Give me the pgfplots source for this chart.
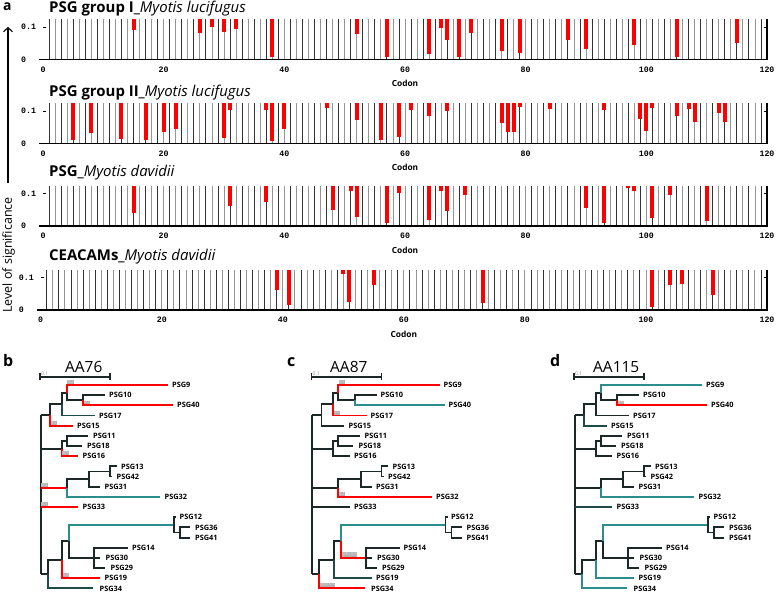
\documentclass[border=0pt]{standalone}
\usepackage{fontspec}
\setmainfont{Open Sans}
\newfontfamily\monof{Liberation Mono}
\usepackage{pgfplots}
\pgfplotsset{compat=1.18}
\usetikzlibrary{arrows.meta}
\definecolor{tk}{RGB}{28,40,40}
\definecolor{dtl}{RGB}{30,74,74}
\definecolor{tl}{RGB}{45,140,140}
\definecolor{rd}{RGB}{255,0,0}

\pgfplotsset{
 barpanel/.style={
  scale only axis, width=724bp, height=40bp,
  xmin=0, xmax=120, ymin=0, ymax=0.124,
  axis line style={draw=none},
  xtick={1,3,...,119}, minor xtick={2,4,...,118},
  xticklabels={},
  xmajorgrids, xminorgrids,
  major x grid style={black!80, line width=0.85bp},
  minor x grid style={black!42, line width=0.85bp},
  xtick style={draw=none},
  extra x ticks={0,20,40,60,80,100,120},
  extra x tick labels={0,20,40,60,80,100,120},
  extra x tick style={grid=none},
  xticklabel style={font=\monof\bfseries\fontsize{8.3}{9}\selectfont, anchor=center, yshift=-10bp, inner sep=0pt},
  ytick={0,0.1}, yticklabels={0,0.1},
  yticklabel style={font=\monof\bfseries\fontsize{8.3}{9}\selectfont, anchor=west, inner sep=0pt, xshift=-22bp},
  ytick style={black, line width=0.8bp}, major tick length=3bp,
  xlabel={Codon},
  xlabel style={at={(axis description cs:0.5,0)}, anchor=center, yshift=-24.5bp, font=\bfseries\fontsize{8.4}{10}\selectfont},
  extra description/.code={\draw[black, line width=1.2bp] (-0.005,0) -- (1,0) -- (1,1);},
 },
 redbar/.style={draw=rd, line width=4bp, mark=none, unbounded coords=jump, line cap=butt},
 treeax/.style={scale only axis, width=230bp, height=248bp, xmin=0, xmax=230, ymin=345, ymax=593, y dir=reverse, hide axis, clip=false, every axis plot/.append style={line width=1.9bp, line join=miter}},
}
\tikzset{
 lbl/.style={anchor=west, inner sep=0pt, font=\bfseries\fontsize{7.4}{8}\selectfont, text=black},
 bxs/.style={anchor=south west, fill=black!30, inner sep=0.5bp, font=\fontsize{3.8}{3.8}\selectfont, text=black!8},
}

\newcommand{\br}[5]{\addplot[#1] coordinates {(#2,#3) (#2,#4) (#5,#4)};}
\newcommand{\hb}[4]{\addplot[#1] coordinates {(#2,#3) (#4,#3)};}
\newcommand{\resetcolors}{%
\colorlet{cD}{tk}\colorlet{cC}{tk}\colorlet{cA}{tk}\colorlet{cB}{tk}%
\colorlet{cP9}{tk}\colorlet{cP10}{tk}\colorlet{cP40}{tk}\colorlet{cP17}{tk}\colorlet{cP15}{tk}%
\colorlet{cE}{tk}\colorlet{cEp}{tk}\colorlet{cP16}{tk}\colorlet{cP11}{tk}\colorlet{cP18}{tk}%
\colorlet{cF}{tk}\colorlet{cG}{tk}\colorlet{cP32}{tk}\colorlet{cGp}{tk}\colorlet{cP31}{tk}%
\colorlet{cP13}{tk}\colorlet{cP42}{tk}\colorlet{cP33}{tk}\colorlet{cM}{tk}\colorlet{cL}{tk}%
\colorlet{cP34}{tk}\colorlet{cK}{tk}\colorlet{cP19}{tk}\colorlet{cI}{tk}\colorlet{cJ}{tk}%
\colorlet{cP14}{tk}\colorlet{cP30}{tk}\colorlet{cP29}{tk}\colorlet{cP12}{tk}\colorlet{cIp}{tk}%
\colorlet{cP36}{tk}\colorlet{cP41}{tk}}

\newcommand{\drawtree}{%
\addplot[tk] coordinates {(40.7,414.9) (40.7,574.1)};
\hb{cD}{40.7}{414.9}{50}
\br{cC}{50}{414.9}{404.1}{61.7}
\br{cP15}{50}{414.9}{425.7}{72.7}
\br{cA}{61.7}{404.1}{392.6}{66.7}
\br{cP17}{61.7}{404.1}{415.5}{95}
\br{cP9}{66.7}{392.6}{385}{168.3}
\br{cB}{66.7}{392.6}{400.3}{83.3}
\br{cP10}{83.3}{400.3}{395.2}{105}
\br{cP40}{83.3}{400.3}{405.3}{173}
\hb{cE}{40.7}{448.6}{61.7}
\br{cEp}{61.7}{448.6}{441}{66.7}
\br{cP16}{61.7}{448.6}{456.2}{78.3}
\br{cP11}{66.7}{441}{435.9}{88.3}
\br{cP18}{66.7}{441}{446}{81.7}
\hb{cF}{40.7}{488}{66.7}
\br{cG}{66.7}{488}{479.1}{89.3}
\br{cP32}{66.7}{488}{496.9}{160}
\br{cGp}{89.3}{479.1}{471.5}{110}
\br{cP31}{89.3}{479.1}{486.7}{100}
\br{cP13}{110}{471.5}{466.4}{116.7}
\br{cP42}{110}{471.5}{476.5}{112}
\hb{cP33}{40.7}{507}{78.3}
\hb{cM}{40.7}{574.1}{47.7}
\br{cL}{47.7}{574.1}{559.8}{62.3}
\br{cP34}{47.7}{574.1}{588.4}{93.3}
\br{cK}{62.3}{559.8}{541.4}{69.3}
\br{cP19}{62.3}{559.8}{578.2}{100}
\br{cI}{69.3}{541.4}{524.9}{174}
\br{cJ}{69.3}{541.4}{557.9}{94.3}
\br{cP14}{94.3}{557.9}{547.7}{128}
\hb{cP30}{94.3}{557.9}{100}
\br{cP29}{94.3}{557.9}{568.1}{105}
\br{cP12}{174}{524.9}{517.2}{176}
\br{cIp}{174}{524.9}{532.5}{180}
\br{cP36}{180}{532.5}{527.4}{190}
\br{cP41}{180}{532.5}{537.6}{190}
\addplot[tk, line width=1.3bp] coordinates {(40,377) (110,377)};
\addplot[tk, line width=1.1bp] coordinates {(40,373.5) (40,380.5)};
\addplot[tk, line width=1.1bp] coordinates {(110,373.5) (110,380.5)};
\node[anchor=south west, inner sep=0pt, font=\fontsize{5}{5}\selectfont, text=black!45] at (axis cs:41,375.5) {0.1};
\node[lbl] at (axis cs:172,385) {PSG9};
\node[lbl] at (axis cs:109,395.2) {PSG10};
\node[lbl] at (axis cs:177,405.3) {PSG40};
\node[lbl] at (axis cs:99,415.5) {PSG17};
\node[lbl] at (axis cs:77,425.7) {PSG15};
\node[lbl] at (axis cs:93,435.9) {PSG11};
\node[lbl] at (axis cs:87,446) {PSG18};
\node[lbl] at (axis cs:82.5,456.2) {PSG16};
\node[lbl] at (axis cs:121,466.4) {PSG13};
\node[lbl] at (axis cs:116.5,476.5) {PSG42};
\node[lbl] at (axis cs:104.5,486.7) {PSG31};
\node[lbl] at (axis cs:164.5,496.9) {PSG32};
\node[lbl] at (axis cs:82.5,507) {PSG33};
\node[lbl] at (axis cs:179.5,517.2) {PSG12};
\node[lbl] at (axis cs:195,527.4) {PSG36};
\node[lbl] at (axis cs:195,537.6) {PSG41};
\node[lbl] at (axis cs:132,547.7) {PSG14};
\node[lbl] at (axis cs:105.5,557.9) {PSG30};
\node[lbl] at (axis cs:110.5,568.1) {PSG29};
\node[lbl] at (axis cs:104.5,578.2) {PSG19};
\node[lbl] at (axis cs:99.5,588.4) {PSG34};
}

\begin{document}
\begin{tikzpicture}
\useasboundingbox (0,0) rectangle (779bp,593bp);

% ---------- panel a ----------
\node[anchor=base west, inner sep=0pt, font=\bfseries\fontsize{14}{16}\selectfont] at (3bp,582.6bp) {a};
\node[anchor=base west, inner sep=0pt, font=\fontsize{15}{17}\selectfont] at (49bp,580.7bp) {\textbf{PSG group I\_}\textit{Myotis lucifugus}};
\node[anchor=base west, inner sep=0pt, font=\fontsize{15}{17}\selectfont] at (49bp,496.4bp) {\textbf{PSG group II\_}\textit{Myotis lucifugus}};
\node[anchor=base west, inner sep=0pt, font=\fontsize{15}{17}\selectfont] at (49bp,416.5bp) {\textbf{PSG\_}\textit{Myotis davidii}};
\node[anchor=base west, inner sep=0pt, font=\fontsize{15}{17}\selectfont] at (49bp,332.5bp) {\textbf{CEACAMs\_}\textit{Myotis davidii}};
\draw[-{Straight Barb[length=4bp,width=9bp]}, line width=1.1bp] (8bp,410bp) -- (8bp,566bp);
\node[rotate=90, inner sep=0pt, font=\fontsize{12.5}{14}\selectfont] at (8.5bp,338bp) {Level of significance};

\begin{axis}[barpanel, at={(43bp,533.7bp)}, anchor=south west]
\addplot[redbar] coordinates {(15,0.124)(15,0.090)(15,nan)(26,0.124)(26,0.080)(26,nan)(28,0.124)(28,0.100)(28,nan)(30,0.124)(30,0.084)(30,nan)(32,0.124)(32,0.095)(32,nan)(38,0.124)(38,0.006)(38,nan)(52,0.124)(52,0.079)(52,nan)(57,0.124)(57,0.008)(57,nan)(64,0.124)(64,0.017)(64,nan)(66,0.124)(66,0.098)(66,nan)(67,0.124)(67,0.059)(67,nan)(69,0.124)(69,0.006)(69,nan)(71,0.124)(71,0.082)(71,nan)(76,0.124)(76,0.026)(76,nan)(79,0.124)(79,0.021)(79,nan)(87,0.124)(87,0.059)(87,nan)(90,0.124)(90,0.032)(90,nan)(98,0.124)(98,0.045)(98,nan)(105,0.124)(105,0.008)(105,nan)(115,0.124)(115,0.050)};
\end{axis}

\begin{axis}[barpanel, at={(43bp,449.7bp)}, anchor=south west]
\addplot[redbar] coordinates {(5,0.124)(5,0.010)(5,nan)(8,0.124)(8,0.033)(8,nan)(13,0.124)(13,0.013)(13,nan)(17,0.124)(17,0.010)(17,nan)(20,0.124)(20,0.034)(20,nan)(22,0.124)(22,0.043)(22,nan)(30,0.124)(30,0.016)(30,nan)(31,0.124)(31,0.102)(31,nan)(37,0.124)(37,0.104)(37,nan)(38,0.124)(38,0.008)(38,nan)(40,0.124)(40,0.044)(40,nan)(47,0.124)(47,0.110)(47,nan)(52,0.124)(52,0.073)(52,nan)(56,0.124)(56,0.010)(56,nan)(59,0.124)(59,0.020)(59,nan)(61,0.124)(61,0.104)(61,nan)(64,0.124)(64,0.086)(64,nan)(67,0.124)(67,0.099)(67,nan)(76,0.124)(76,0.064)(76,nan)(77,0.124)(77,0.035)(77,nan)(78,0.124)(78,0.034)(78,nan)(79,0.124)(79,0.112)(79,nan)(84,0.124)(84,0.105)(84,nan)(93,0.124)(93,0.102)(93,nan)(99,0.124)(99,0.076)(99,nan)(100,0.124)(100,0.038)(100,nan)(101,0.124)(101,0.109)(101,nan)(105,0.124)(105,0.086)(105,nan)(107,0.124)(107,0.105)(107,nan)(108,0.124)(108,0.066)(108,nan)(112,0.124)(112,0.094)(112,nan)(113,0.124)(113,0.066)};
\end{axis}

\begin{axis}[barpanel, at={(43bp,367bp)}, anchor=south west]
\addplot[redbar] coordinates {(15,0.124)(15,0.039)(15,nan)(31,0.124)(31,0.062)(31,nan)(37,0.124)(37,0.074)(37,nan)(48,0.124)(48,0.051)(48,nan)(51,0.124)(51,0.110)(51,nan)(52,0.124)(52,0.028)(52,nan)(57,0.124)(57,0.008)(57,nan)(59,0.124)(59,0.102)(59,nan)(64,0.124)(64,0.018)(64,nan)(66,0.124)(66,0.110)(66,nan)(67,0.124)(67,0.047)(67,nan)(70,0.124)(70,0.095)(70,nan)(90,0.124)(90,0.057)(90,nan)(93,0.124)(93,0.010)(93,nan)(97,0.124)(97,0.117)(97,nan)(98,0.124)(98,0.108)(98,nan)(101,0.124)(101,0.025)(101,nan)(104,0.124)(104,0.097)(104,nan)(110,0.124)(110,0.016)};
\end{axis}

\begin{axis}[barpanel, width=726.3bp, at={(40.7bp,283bp)}, anchor=south west]
\addplot[redbar] coordinates {(39,0.124)(39,0.061)(39,nan)(41,0.124)(41,0.014)(41,nan)(50,0.124)(50,0.113)(50,nan)(51,0.124)(51,0.025)(51,nan)(55,0.124)(55,0.078)(55,nan)(73,0.124)(73,0.021)(73,nan)(101,0.124)(101,0.010)(101,nan)(104,0.124)(104,0.076)(104,nan)(106,0.124)(106,0.081)(106,nan)(111,0.124)(111,0.045)};
\end{axis}

% ---------- panels b, c, d ----------
\node[anchor=base west, inner sep=0pt, font=\bfseries\fontsize{16}{18}\selectfont] at (3bp,226.3bp) {b};
\node[anchor=base west, inner sep=0pt, font=\bfseries\fontsize{16}{18}\selectfont] at (287bp,226.3bp) {c};
\node[anchor=base west, inner sep=0pt, font=\bfseries\fontsize{16}{18}\selectfont] at (550bp,226.3bp) {d};

\resetcolors
\colorlet{cP9}{rd}\colorlet{cP40}{rd}\colorlet{cP15}{rd}\colorlet{cP16}{rd}\colorlet{cF}{rd}\colorlet{cP33}{rd}\colorlet{cP19}{rd}%
\colorlet{cP32}{tl}\colorlet{cI}{tl}\colorlet{cP17}{dtl}\colorlet{cP34}{dtl}%
\begin{axis}[treeax, at={(0bp,0bp)}, anchor=south west]
\drawtree
\node[anchor=base west, inner sep=0pt, font=\fontsize{15.5}{17}\selectfont] at (axis cs:65,372.5) {AA76};
\node[bxs] at (axis cs:67.2,384.2) {0.2};
\node[bxs] at (axis cs:83.8,404.5) {0.1};
\node[bxs] at (axis cs:50.5,424.9) {0.1};
\node[bxs] at (axis cs:62.2,455.4) {0.1};
\node[bxs] at (axis cs:41.2,487.2) {0.5};
\node[bxs] at (axis cs:41.2,506.2) {0.1};
\node[bxs] at (axis cs:62.8,577.4) {0.5};
\end{axis}

\resetcolors
\colorlet{cP9}{rd}\colorlet{cP17}{rd}\colorlet{cP32}{rd}\colorlet{cJ}{rd}\colorlet{cP34}{rd}%
\colorlet{cP40}{tl}\colorlet{cI}{tl}\colorlet{cP19}{dtl}%
\begin{axis}[treeax, at={(271.5bp,0bp)}, anchor=south west]
\drawtree
\node[anchor=base west, inner sep=0pt, font=\fontsize{15.5}{17}\selectfont] at (axis cs:58.5,372.5) {AA87};
\node[bxs] at (axis cs:67.2,384.2) {0.1};
\node[bxs] at (axis cs:62.2,414.7) {0.2};
\node[bxs] at (axis cs:67.2,496.1) {0.1};
\node[bxs] at (axis cs:70.5,557.1) {0.5\,|\,0.5};
\node[bxs] at (axis cs:48.5,587.6) {0.5\,|\,0.5};
\end{axis}

\resetcolors
\colorlet{cP40}{rd}%
\colorlet{cP9}{tl}\colorlet{cP32}{tl}\colorlet{cI}{tl}\colorlet{cP19}{tl}\colorlet{cP34}{tl}\colorlet{cP33}{dtl}\colorlet{cP15}{dtl}%
\begin{axis}[treeax, at={(534bp,0bp)}, anchor=south west]
\drawtree
\node[anchor=base west, inner sep=0pt, font=\fontsize{15.5}{17}\selectfont] at (axis cs:59,372.5) {AA115};
\node[bxs] at (axis cs:83.8,404.5) {0.5};
\end{axis}
\end{tikzpicture}
\end{document}
